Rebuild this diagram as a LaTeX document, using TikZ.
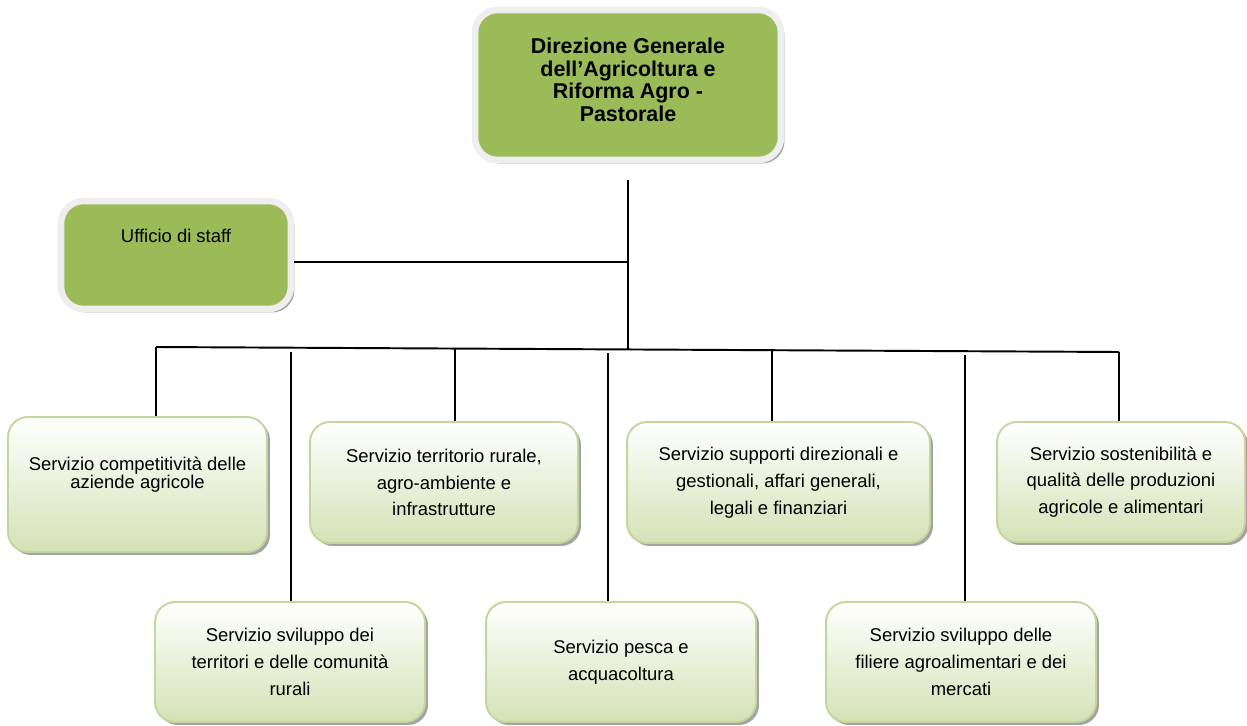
\documentclass[tikz,border=0pt]{standalone}
\usepackage{fontspec}
\setmainfont{Liberation Sans}
\usetikzlibrary{calc}
\usetikzlibrary{shadows}
\definecolor{DirGreen}{HTML}{9BBB59}
\definecolor{RimGray}{HTML}{EEEEEE}
\definecolor{SrvBorder}{HTML}{C3D69B}
\definecolor{SrvBottom}{HTML}{D4E2B6}
\definecolor{ShadowGray}{HTML}{8C8C8C}
\begin{document}
\begin{tikzpicture}[x=0.02cm,y=-0.02cm]
    \tikzstyle{d}=[shape=rectangle,rounded corners=0.45cm,fill=DirGreen,draw=RimGray,line width=0.13cm,
        drop shadow={shadow xshift=0.07cm,shadow yshift=-0.07cm,fill=ShadowGray,opacity=0.8},align=center]
    \tikzstyle{s}=[shape=rectangle,rounded corners=0.4cm,top color=white,bottom color=SrvBottom,draw=SrvBorder,line width=1.1pt,
        drop shadow={shadow xshift=0.06cm,shadow yshift=-0.06cm,fill=ShadowGray,opacity=0.8},
        align=center,font=\fontsize{10.5}{15.3}\selectfont,minimum height=2.42cm]
    \tikzstyle{l}=[line width=1.1pt]

    \useasboundingbox (0,0) rectangle (1247,726);

    % direction
    \coordinate (dir_c) at (628,85);
    \node[d,minimum width=6.12cm,minimum height=3cm,font=\fontsize{12.2}{12.8}\selectfont\bfseries,text depth=6pt] (dir) at (dir_c)
        {Direzione Generale\\dell’Agricoltura e\\Riforma Agro -\\Pastorale};

    % staff
    \coordinate (staff_c) at (176,255);
    \node[d,minimum width=4.6cm,minimum height=2.16cm,font=\fontsize{10.5}{13}\selectfont,text depth=22pt] (staff) at (staff_c)
        {Ufficio di staff};

    % first row of services
    \coordinate (srv_1_c) at (137.5,484.5);
    \node[s,minimum width=5.18cm,minimum height=2.7cm,font=\fontsize{10.5}{10.2}\selectfont,text depth=13pt] (srv_1) at (srv_1_c)
        {Servizio competitività delle\\aziende agricole};

    \coordinate (srv_3_c) at (444,482.5);
    \node[s,minimum width=5.36cm] (srv_3) at (srv_3_c)
        {Servizio territorio rurale,\\agro-ambiente e\\infrastrutture};

    \coordinate (srv_5_c) at (778.5,482.5);
    \node[s,minimum width=6.06cm] (srv_5) at (srv_5_c)
        {Servizio supporti direzionali e\\gestionali, affari generali,\\legali e finanziari};

    \coordinate (srv_7_c) at (1121,482);
    \node[s,minimum width=4.96cm,minimum height=2.4cm] (srv_7) at (srv_7_c)
        {Servizio sostenibilità e\\qualità delle produzioni\\agricole e alimentari};

    % second row of services
    \coordinate (srv_2_c) at (290,662);
    \node[s,minimum width=5.4cm,minimum height=2.4cm] (srv_2) at (srv_2_c)
        {Servizio sviluppo dei\\territori e delle comunità\\rurali};

    \coordinate (srv_4_c) at (621,662);
    \node[s,minimum width=5.4cm,minimum height=2.4cm] (srv_4) at (srv_4_c)
        {Servizio pesca e\\acquacoltura};

    \coordinate (srv_6_c) at (961,662);
    \node[s,minimum width=5.4cm,minimum height=2.4cm] (srv_6) at (srv_6_c)
        {Servizio sviluppo delle\\filiere agroalimentari e dei\\mercati};

    % trunk and bus
    \coordinate (trunk_top) at ($(dir.south)+(0,17)$);
    \coordinate (bus_l) at (156,347);
    \coordinate (bus_r) at (1119,352);
    \coordinate (bus_m) at ($(bus_l)!0.49!(bus_r)$);
    \coordinate (staff_j) at (628,262);

    \draw[l] (trunk_top) -- (trunk_top |- bus_m);
    \draw[l] (staff_j -| staff.east) -- (staff_j);
    \draw[l] (bus_l) -- (bus_r);

    % drops to the first row
    \draw[l] (bus_l) -- (bus_l |- srv_1.north);
    \coordinate (drop_3) at (455,348.6);
    \draw[l] (drop_3) -- (drop_3 |- srv_3.north);
    \coordinate (drop_5) at (772,350.2);
    \draw[l] (drop_5) -- (drop_5 |- srv_5.north);
    \draw[l] (bus_r) -- (bus_r |- srv_7.north);

    % drops to the second row
    \coordinate (drop_2) at (291,352);
    \draw[l] (drop_2) -- (drop_2 |- srv_2.north);
    \coordinate (drop_4) at (608,353);
    \draw[l] (drop_4) -- (drop_4 |- srv_4.north);
    \coordinate (drop_6) at (965,355);
    \draw[l] (drop_6) -- (drop_6 |- srv_6.north);

\end{tikzpicture}
\end{document}
